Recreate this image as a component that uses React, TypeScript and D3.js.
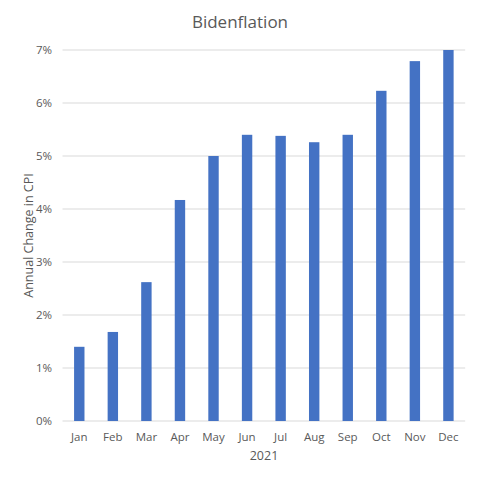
import React from 'react';
import { scaleBand, scaleLinear } from 'd3';

const months = ['Jan', 'Feb', 'Mar', 'Apr', 'May', 'Jun', 'Jul', 'Aug', 'Sep', 'Oct', 'Nov', 'Dec'];
const cpiChange = [1.4, 1.68, 2.62, 4.17, 5.0, 5.4, 5.38, 5.26, 5.4, 6.23, 6.79, 7.0];
const yTicks = [0, 1, 2, 3, 4, 5, 6, 7];

const font = '"Segoe UI", "Open Sans", "Noto Sans", sans-serif';
const textColor = '#595959';

export default function App() {
  const width = 480;
  const height = 480;
  const left = 62.5;
  const right = 465.2;
  const top = 50;
  const bottom = 421;

  const x = scaleBand<string>().domain(months).range([left, right]).paddingInner(0.69).paddingOuter(0.345);
  const y = scaleLinear().domain([0, 7]).range([bottom, top]);

  return (
    <svg width={width} height={height} style={{ position: 'absolute', left: 0, top: 0, background: '#fff' }}>
      <text x={240} y={28} textAnchor="middle" fontFamily={font} fontSize={17} fill={textColor}>
        Bidenflation
      </text>
      {yTicks.map((t) => (
        <g key={t}>
          <line x1={left} x2={right} y1={y(t)} y2={y(t)} stroke="#d9d9d9" strokeWidth={1} />
          <text x={52} y={y(t) + 4} textAnchor="end" fontFamily={font} fontSize={11.5} fill={textColor}>
            {t}%
          </text>
        </g>
      ))}
      {months.map((m, i) => (
        <rect
          key={m}
          x={x(m)}
          y={y(cpiChange[i])}
          width={x.bandwidth()}
          height={y(0) - y(cpiChange[i])}
          fill="#4472C4"
        />
      ))}
      {months.map((m) => (
        <text
          key={m}
          x={(x(m) ?? 0) + x.bandwidth() / 2}
          y={441}
          textAnchor="middle"
          fontFamily={font}
          fontSize={11.5}
          fill={textColor}
        >
          {m}
        </text>
      ))}
      <text x={264} y={460} textAnchor="middle" fontFamily={font} fontSize={12.5} fill={textColor}>
        2021
      </text>
      <text
        transform={`translate(33, ${(top + bottom) / 2}) rotate(-90)`}
        textAnchor="middle"
        fontFamily={font}
        fontSize={12.5}
        fill={textColor}
      >
        Annual Change in CPI
      </text>
    </svg>
  );
}
